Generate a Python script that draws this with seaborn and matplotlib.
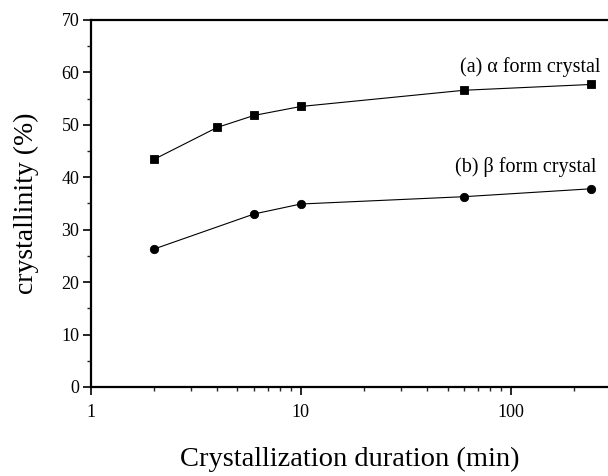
import numpy as np
import pandas as pd
import seaborn as sns
import matplotlib.pyplot as plt
from matplotlib.ticker import MultipleLocator, LogLocator, NullFormatter

alpha_time = [2, 4, 6, 10, 60, 240]
alpha_cryst = [43.4, 49.5, 51.8, 53.5, 56.6, 57.7]
beta_time = [2, 6, 10, 60, 240]
beta_cryst = [26.3, 33.0, 34.9, 36.3, 37.8]

sns.set_style("ticks")
plt.rcParams['font.family'] = ['Liberation Serif', 'DejaVu Serif']
plt.rcParams['text.color'] = 'black'
plt.rcParams['axes.labelcolor'] = 'black'

fig = plt.figure(figsize=(6.08, 4.76), dpi=100)
ax = fig.add_axes([0.149, 0.187, 0.851, 0.771])

sns.lineplot(x=alpha_time, y=alpha_cryst, marker='s', markersize=5.5, color='black',
             linewidth=0.8, markeredgecolor='black', markeredgewidth=0.6, ax=ax)
sns.lineplot(x=beta_time, y=beta_cryst, marker='o', markersize=6, color='black',
             linewidth=0.8, markeredgecolor='black', markeredgewidth=0.6, ax=ax)

ax.set_xscale('log')
ax.set_xlim(1, 290)
ax.set_ylim(0, 70)
ax.yaxis.set_major_locator(MultipleLocator(10))
ax.yaxis.set_minor_locator(MultipleLocator(5))
ax.xaxis.set_minor_locator(LogLocator(base=10, subs=np.arange(2, 10)))
ax.xaxis.set_minor_formatter(NullFormatter())
ax.set_xticks([1, 10, 100])
ax.set_xticklabels(['1', '10', '100'])

for s in ['left', 'bottom', 'top']:
    ax.spines[s].set_linewidth(1.6)
    ax.spines[s].set_color('black')
ax.spines['right'].set_visible(False)

ax.tick_params(axis='both', which='major', direction='out', length=6, width=1.2,
               labelsize=13, colors='black', pad=2)
ax.tick_params(axis='both', which='minor', direction='out', length=3, width=1.0)
ax.tick_params(axis='x', pad=6)

ax.set_ylabel('crystallinity (%)', fontsize=20, labelpad=16)
ax.set_xlabel('Crystallization duration (min)', fontsize=20.5, labelpad=19)

ax.text(266, 61.0, '(a) α form crystal', fontsize=14.5, ha='right', va='center')
ax.text(255, 42.0, '(b) β form crystal', fontsize=14.5, ha='right', va='center')

fig.savefig('out.png', dpi=100)
